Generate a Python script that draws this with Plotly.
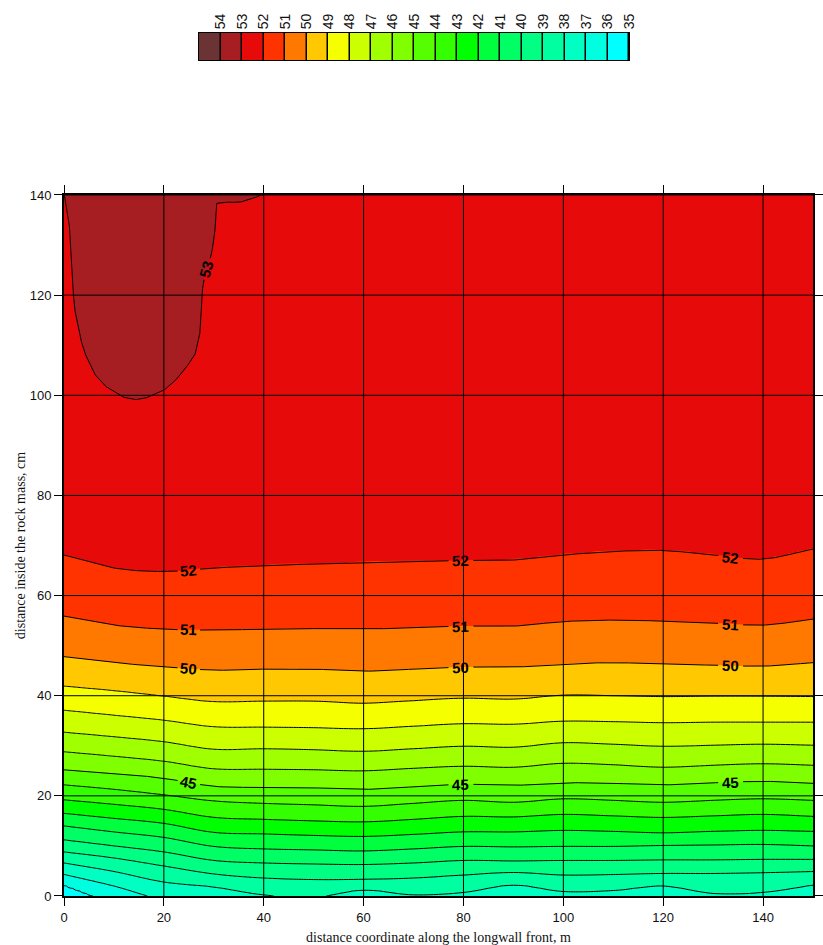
import math
import numpy as np
import plotly.graph_objects as go

# ---------------- data ----------------
levels = list(range(35, 55))  # legend classes 35 .. 54
level_colors = ["#00FFFF", "#00FFE1", "#00FFC3", "#00FFA0", "#00FF82", "#00FF64",
                "#00FF3C", "#00FF00", "#33FF00", "#55FF00", "#7FFF00", "#A0FF00",
                "#CCFF00", "#F5FF00", "#FFC800", "#FF7800", "#FF3300", "#E60A0A",
                "#A61E22", "#6B3333"]

x_ticks = [0, 20, 40, 60, 80, 100, 120, 140]
y_ticks = [0, 20, 40, 60, 80, 100, 120, 140]
x_title = "distance coordinate along the longwall front, m"
y_title = "distance inside the rock mass, cm"

# columns (m) at which the isoline depths (cm) were read
x_cols = [0, 10, 20, 30, 40, 50, 60, 70, 80, 90, 100, 110, 120, 130, 140, 150]

iso_35 = [-8, -8, -9, -9, -9, -9, -9, -9, -9, -9, -9, -9, -9, -9, -9, -9]
iso_36 = [2.2, -1.4, -3.5, -4.5, -5.5, -5.8, -5.5, -5.5, -5.5, -5.5, -5.5, -5.5, -5.5, -5.5, -5.5, -5.5]
iso_37 = [4.3, 2.0, -0.8, -1.6, -2.5, -3.0, -2.5, -2.5, -2.5, -2.0, -2.5, -2.5, -2.0, -2.5, -2.5, -2.0]
iso_38 = [6.6, 4.9, 2.8, 1.8, 0.2, -0.3, 1.2, 0.2, 0.7, 2.2, 0.9, 1.1, 2.0, 0.5, 0.7, 2.2]
iso_39 = [8.8, 7.6, 6.0, 4.4, 3.6, 3.3, 3.3, 3.6, 4.2, 4.7, 4.2, 4.3, 4.5, 4.5, 4.7, 4.9]
iso_40 = [11.2, 10.0, 8.8, 7.1, 6.6, 6.4, 6.3, 6.6, 7.1, 7.0, 7.1, 7.1, 7.2, 7.2, 7.3, 7.3]
iso_41 = [14.0, 12.8, 11.7, 9.9, 9.4, 9.2, 9.0, 9.4, 9.9, 9.8, 9.9, 9.9, 10.1, 10.2, 10.3, 10.0]
iso_42 = [16.5, 15.5, 14.5, 12.7, 12.4, 12.1, 11.9, 12.3, 12.8, 12.8, 13.1, 12.9, 12.6, 12.9, 13.1, 12.9]
iso_43 = [19.2, 18.3, 17.3, 15.7, 15.3, 15.0, 14.8, 15.3, 15.9, 15.8, 16.3, 16.0, 15.7, 16.0, 16.3, 15.9]
iso_44 = [22.2, 21.3, 20.2, 19.0, 18.5, 18.2, 17.9, 18.5, 19.1, 18.7, 19.4, 19.1, 18.7, 19.1, 19.4, 19.1]
iso_45 = [25.2, 24.5, 23.5, 21.9, 21.7, 21.6, 21.3, 21.8, 22.3, 22.1, 22.6, 22.5, 22.2, 22.6, 22.9, 22.5]
iso_46 = [28.8, 27.9, 26.9, 25.4, 25.3, 25.2, 25.0, 25.5, 25.9, 25.7, 26.5, 26.2, 25.7, 26.1, 26.4, 26.1]
iso_47 = [32.7, 31.8, 30.8, 29.3, 29.4, 29.2, 28.9, 29.4, 29.9, 29.7, 30.6, 30.3, 29.9, 30.1, 30.3, 30.1]
iso_48 = [37.1, 36.1, 35.1, 33.8, 33.7, 33.6, 33.4, 33.9, 34.4, 34.3, 34.9, 34.8, 34.6, 34.7, 34.7, 34.7]
iso_49 = [41.9, 41.0, 39.9, 38.8, 38.9, 38.9, 38.5, 39.0, 39.5, 39.3, 40.1, 40.0, 39.8, 39.9, 39.9, 39.8]
iso_50 = [47.8, 46.6, 45.8, 45.1, 45.3, 45.3, 44.9, 45.3, 45.7, 45.7, 46.3, 46.6, 46.3, 46.1, 45.9, 46.6]
iso_51 = [55.9, 54.1, 53.3, 53.1, 53.3, 53.4, 53.3, 53.6, 53.9, 53.9, 54.8, 55.1, 54.9, 54.5, 54.1, 55.3]
iso_52 = [68.1, 65.5, 64.8, 65.5, 66.0, 66.3, 66.6, 66.8, 67.0, 67.1, 68.1, 68.8, 69.0, 68.1, 67.3, 69.3]

# the closed 53 isoline in the upper-left corner (x in m, depth in cm)
iso_53_x = [0, 1, 1.5, 2, 3, 4, 6, 8, 10, 12, 14, 16, 18, 20, 22, 23.2, 24.5, 26.2, 27.2,
            27.4, 27.7, 28.2, 29.5, 30.2, 30.35, 30.45, 31, 33, 35, 38, 40, 44, 60, 150]
iso_53_y = [140.4, 135, 127, 118, 112.5, 108.8, 104.4, 102, 100.7, 99.6, 99.1, 99.3,
            100.1, 101, 102.6, 104, 105.6, 108, 112, 117, 121, 124, 128, 132, 136,
            138.3, 138.4, 138.6, 138.5, 139.3, 140.3, 150, 180, 190]

depth_below_34 = -60.0   # temperature 34 lies far below the section
depth_of_54 = 400.0      # temperature 54 lies far above the section

iso_tables = [iso_35, iso_36, iso_37, iso_38, iso_39, iso_40, iso_41, iso_42, iso_43,
              iso_44, iso_45, iso_46, iso_47, iso_48, iso_49, iso_50, iso_51, iso_52]
labelled = {45: iso_45, 50: iso_50, 51: iso_51, 52: iso_52}
label_x = [25, 79.5, 133.5]      # where the isoline values are written
label_53_x = 28.6


# ---------------- surface built from the isoline table ----------------
def hermite(xq, xs, ys):
    xq = np.asarray(xq, float)
    xs = np.asarray(xs, float)
    ys = np.asarray(ys, float)
    m = np.gradient(ys, xs)
    idx = np.clip(np.searchsorted(xs, xq, side="right") - 1, 0, len(xs) - 2)
    x0, x1 = xs[idx], xs[idx + 1]
    h = x1 - x0
    t = (xq - x0) / h
    t2, t3 = t * t, t * t * t
    return ((2 * t3 - 3 * t2 + 1) * ys[idx] + (t3 - 2 * t2 + t) * m[idx] * h
            + (-2 * t3 + 3 * t2) * ys[idx + 1] + (t3 - t2) * m[idx + 1] * h)


xg = np.unique(np.concatenate([np.arange(0, 42, 0.25), np.arange(42, 150.001, 0.5)]))
yg = np.arange(0, 140.001, 0.5)

rows = [np.full_like(xg, depth_below_34)]
for tab in iso_tables:
    rows.append(hermite(xg, x_cols, tab))
rows.append(np.interp(xg, iso_53_x, iso_53_y))
rows.append(np.full_like(xg, depth_of_54))
H = np.vstack(rows)
for k in range(1, H.shape[0]):
    H[k] = np.maximum(H[k], H[k - 1] + 0.05)
anchor_vals = np.arange(34, 55, dtype=float)
Z = np.empty((len(yg), len(xg)))
for j in range(len(xg)):
    Z[:, j] = np.interp(yg, H[:, j], anchor_vals)
Z = Z.astype(np.float32)

# colour scales
n = len(levels)
fill_cs = [[0.0, level_colors[0]]] + [[(L - levels[0] + 1) / n, c] for L, c in zip(levels, level_colors)]
heat_cs = []
for i, c in enumerate(level_colors):
    heat_cs += [[i / n, c], [(i + 1) / n, c]]

# pixel scale of the main plot (for label gaps / angles)
PX_X = 749 / 150.0
PX_Y = 701 / 140.0
GAP = 11.0

label_font = dict(family="Liberation Sans Narrow, Liberation Sans", size=15,
                  color="black", weight="bold")

fig = go.Figure()
fig.add_trace(go.Contour(
    x=xg, y=yg, z=Z, autocontour=False,
    contours=dict(start=levels[0], end=levels[-1], size=1, coloring="fill", showlines=False),
    colorscale=fill_cs, showscale=False, line=dict(width=0), hoverinfo="skip"))


def iso_lines(lo, hi):
    return go.Contour(
        x=xg, y=yg, z=Z, autocontour=False,
        contours=dict(start=lo, end=hi, size=1, coloring="none", showlabels=False),
        line=dict(color="black", width=1), showscale=False, hoverinfo="skip")


fig.add_trace(iso_lines(36, 44))
fig.add_trace(iso_lines(46, 49))

annotations = []


def gapped_line(xs, ys, centers):
    xs = np.asarray(xs, float)
    ys = np.asarray(ys, float).copy()
    for cx, cy in centers:
        d = np.hypot((xs - cx) * PX_X, (ys - cy) * PX_Y)
        ys[d < GAP] = np.nan
    return ys


for L, tab in labelled.items():
    yline = hermite(xg, x_cols, tab)
    centers = []
    for lx in label_x:
        ly = float(hermite([lx], x_cols, tab)[0])
        dy = float(hermite([lx + 1.5], x_cols, tab)[0] - hermite([lx - 1.5], x_cols, tab)[0])
        ang = -math.degrees(math.atan2(dy * PX_Y, 3.0 * PX_X))
        centers.append((lx, ly))
        annotations.append(dict(x=lx, y=ly, text=str(L), showarrow=False, textangle=ang,
                                xanchor="center", yanchor="middle", font=label_font))
    fig.add_trace(go.Scatter(x=xg, y=gapped_line(xg, yline, centers), mode="lines",
                             line=dict(color="black", width=1), connectgaps=False,
                             hoverinfo="skip", cliponaxis=True))

# the 53 isoline (pocket in the upper-left corner)
p_x = np.array([v for v in iso_53_x if v <= 40.5])
p_y = np.array(iso_53_y[:len(p_x)])
p_t = np.linspace(0, len(p_x) - 1, 1200)
p_xd = np.interp(p_t, np.arange(len(p_x)), p_x)
p_yd = np.interp(p_t, np.arange(len(p_x)), p_y)
l53_y = float(np.interp(label_53_x, iso_53_x, iso_53_y))
d53 = (np.interp(label_53_x + 0.6, iso_53_x, iso_53_y) - np.interp(label_53_x - 0.6, iso_53_x, iso_53_y))
ang53 = -math.degrees(math.atan2(d53 * PX_Y, 1.2 * PX_X))
fig.add_trace(go.Scatter(x=p_xd, y=gapped_line(p_xd, p_yd, [(label_53_x, l53_y)]), mode="lines",
                         line=dict(color="black", width=1), connectgaps=False,
                         hoverinfo="skip", cliponaxis=True))
annotations.append(dict(x=label_53_x, y=l53_y, text="53", showarrow=False, textangle=ang53,
                        xanchor="center", yanchor="middle", font=label_font))

# legend strip (classes from high to low)
legend_levels = levels[::-1]
fig.add_trace(go.Heatmap(
    z=[[L + 0.5 for L in legend_levels]], x=list(range(n)), y=[0],
    colorscale=heat_cs, zmin=levels[0], zmax=levels[-1] + 1, showscale=False,
    xgap=1.5, xaxis="x2", yaxis="y2", hoverinfo="skip"))

for t in x_ticks[1:]:
    fig.add_vline(x=t, line=dict(color="black", width=1), layer="above")
for t in y_ticks[1:]:
    fig.add_hline(y=t, line=dict(color="black", width=1), layer="above")

axis_common = dict(ticks="outside", ticklen=8, tickwidth=1, tickcolor="black",
                   showline=True, linewidth=2, linecolor="black", mirror="ticks",
                   showgrid=False, zeroline=False, automargin=False,
                   tickfont=dict(family="Liberation Sans", size=13, color="#111"))

fig.update_layout(
    width=823, height=945, template="none",
    margin=dict(l=64, r=10, t=30, b=49),
    paper_bgcolor="white", plot_bgcolor="black", showlegend=False,
    font=dict(family="Liberation Sans", size=13, color="#111"),
    annotations=annotations,
    xaxis=dict(domain=[0, 1], anchor="y", range=[0, 150], tickvals=x_ticks,
               title=dict(text=x_title, font=dict(family="Liberation Serif", size=14)),
               **axis_common),
    yaxis=dict(domain=[0, 0.80947], anchor="x", range=[0, 140], tickvals=y_ticks,
               title=dict(text=y_title, font=dict(family="Liberation Serif", size=14)),
               **axis_common),
    xaxis2=dict(domain=[0.18024, 0.75434], anchor="y2", range=[-0.5, n - 0.5], side="top",
                tickvals=[i + 0.499 for i in range(n)], ticktext=[str(L) for L in legend_levels],
                tickangle=-90, ticks="", showline=True, linecolor="black", linewidth=1,
                mirror=True, showgrid=False, zeroline=False, automargin=False,
                tickfont=dict(family="Liberation Sans", size=14, color="#111")),
    yaxis2=dict(domain=[0.96536, 0.99654], anchor="x2", range=[-0.5, 0.5],
                showticklabels=False, ticks="", showline=True, linecolor="black",
                linewidth=1, mirror=True, showgrid=False, zeroline=False, automargin=False),
)

fig.write_html("out.html")
